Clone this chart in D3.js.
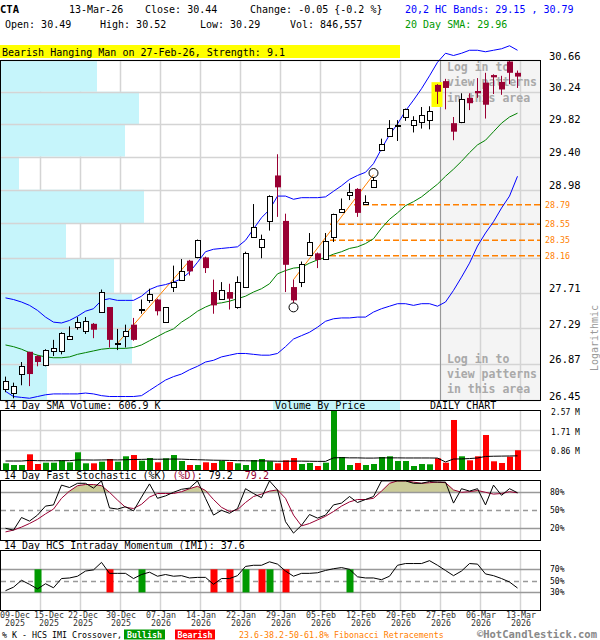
<!DOCTYPE html>
<html>
<head>
<meta charset="utf-8">
<script src="https://cdn.jsdelivr.net/npm/d3@7/dist/d3.min.js"></script>
<style>
body{margin:0;background:#fff;}
svg text{font-family:"DejaVu Sans Mono","Liberation Mono",monospace;white-space:pre;}
</style>
</head>
<body>
<svg id="chart" width="600" height="640"></svg>
<script>
// ---------------- DATA ----------------
const dates = ["2025-12-09","2025-12-10","2025-12-11","2025-12-12","2025-12-15","2025-12-16","2025-12-17","2025-12-18","2025-12-19","2025-12-22","2025-12-23","2025-12-24","2025-12-26","2025-12-29","2025-12-30","2025-12-31","2026-01-02","2026-01-05","2026-01-06","2026-01-07","2026-01-08","2026-01-09","2026-01-12","2026-01-13","2026-01-14","2026-01-15","2026-01-16","2026-01-20","2026-01-21","2026-01-22","2026-01-23","2026-01-26","2026-01-27","2026-01-28","2026-01-29","2026-01-30","2026-02-02","2026-02-03","2026-02-04","2026-02-05","2026-02-06","2026-02-09","2026-02-10","2026-02-11","2026-02-12","2026-02-13","2026-02-17","2026-02-18","2026-02-19","2026-02-20","2026-02-23","2026-02-24","2026-02-25","2026-02-26","2026-02-27","2026-03-02","2026-03-03","2026-03-04","2026-03-05","2026-03-06","2026-03-09","2026-03-10","2026-03-11","2026-03-12","2026-03-13"];
const open  = [26.58,26.53,26.75,27.01,26.96,26.85,27.02,27.02,27.16,27.30,27.25,27.34,27.48,27.54,27.10,27.20,27.33,27.51,27.63,27.63,27.36,27.78,27.87,28.10,28.14,28.14,27.72,27.64,27.72,27.54,27.78,28.39,28.27,28.59,29.16,28.59,27.78,27.84,28.17,28.19,28.12,28.39,28.70,28.91,28.99,28.80,29.02,29.48,29.67,29.79,29.91,29.80,29.85,29.87,30.33,30.38,29.83,29.84,30.16,30.25,30.36,30.46,30.37,30.64,30.49];
const high  = [26.72,26.65,26.89,27.01,26.97,27.04,27.15,27.24,27.31,27.42,27.42,27.35,27.75,27.54,27.28,27.33,27.41,27.63,27.76,27.64,27.54,28.04,28.12,28.11,28.36,28.15,27.87,27.84,27.82,27.91,28.21,28.80,28.42,28.91,29.43,28.68,27.87,28.09,28.44,28.20,28.44,28.68,28.87,29.06,29.00,28.91,29.14,29.63,29.87,29.87,30.02,29.92,30.04,30.05,30.34,30.41,29.91,30.22,30.22,30.42,30.49,30.47,30.45,30.66,30.52];
const low   = [26.54,26.47,26.62,26.61,26.84,26.84,26.96,26.98,27.15,27.27,27.22,27.17,27.47,27.06,27.03,27.06,27.14,27.46,27.59,27.44,27.35,27.72,27.86,27.92,28.13,27.95,27.46,27.64,27.51,27.52,27.77,28.39,28.13,28.47,28.64,27.72,27.59,27.78,28.16,28.01,28.11,28.33,28.69,28.85,28.64,28.79,29.01,29.47,29.66,29.60,29.86,29.71,29.76,29.75,30.08,30.01,29.61,29.83,30.00,30.16,29.89,30.21,30.20,30.34,30.29];
const close = [26.67,26.61,26.84,26.75,26.89,27.03,27.05,27.23,27.20,27.36,27.37,27.27,27.72,27.15,27.11,27.26,27.15,27.52,27.70,27.49,27.54,27.84,27.97,27.97,28.35,28.01,27.56,27.75,27.64,27.84,28.20,28.52,28.37,28.90,29.01,28.05,27.62,28.06,28.33,28.11,28.34,28.67,28.74,28.95,28.69,28.83,29.10,29.56,29.77,29.80,30.01,29.87,29.94,29.99,30.24,30.29,29.72,30.14,30.09,30.22,30.07,30.43,30.27,30.49,30.44];
const volume = [287000,214000,214000,672000,257000,313000,313000,415000,330000,758000,287000,287000,356000,471000,356000,587000,642000,398000,514000,330000,501000,642000,385000,214000,214000,330000,300000,398000,343000,287000,214000,428000,471000,373000,287000,415000,514000,257000,300000,171000,313000,2570000,557000,214000,300000,214000,257000,557000,587000,385000,385000,171000,257000,244000,501000,313000,2142000,587000,415000,587000,1499000,373000,300000,570000,846557];
const volSma = [385,385,385,410,400,395,395,400,400,430,430,425,430,435,430,440,450,455,465,460,465,470,465,450,440,430,420,415,410,400,395,390,390,385,375,375,380,380,375,370,370,520,530,520,520,510,510,520,520,520,515,515,515,515,510,345,470,475,490,515,580,590,595,600,606.9].map(v=>v*1000);
const sma20 = [27.09,27.07,27.04,27.00,26.97,26.95,26.94,26.94,26.95,26.98,27.00,27.02,27.04,27.05,27.05,27.05,27.06,27.09,27.14,27.19,27.24,27.28,27.36,27.42,27.49,27.54,27.58,27.59,27.61,27.64,27.67,27.72,27.76,27.82,27.94,27.98,28.01,28.02,28.07,28.11,28.14,28.18,28.21,28.25,28.27,28.31,28.37,28.50,28.61,28.69,28.78,28.83,28.89,28.97,29.05,29.15,29.24,29.34,29.45,29.55,29.61,29.72,29.83,29.91,29.96];
const bandUpper = [27.65,27.63,27.60,27.56,27.50,27.42,27.36,27.35,27.38,27.43,27.49,27.52,27.62,27.64,27.62,27.62,27.62,27.67,27.75,27.79,27.81,27.84,27.88,27.96,28.08,28.21,28.24,28.25,28.26,28.27,28.35,28.49,28.63,28.73,28.90,28.90,28.86,28.88,28.88,28.88,28.89,28.96,29.03,29.11,29.16,29.20,29.31,29.50,29.68,29.82,29.99,30.13,30.28,30.45,30.63,30.75,30.72,30.75,30.79,30.79,30.77,30.79,30.81,30.85,30.79];
const bandLower = [26.55,26.49,26.48,26.47,26.49,26.51,26.52,26.52,26.52,26.52,26.53,26.52,26.50,26.49,26.49,26.49,26.49,26.50,26.56,26.62,26.68,26.72,26.75,26.80,26.84,26.89,26.91,26.95,26.97,26.99,26.99,26.98,26.97,26.97,26.99,27.07,27.16,27.20,27.24,27.30,27.37,27.40,27.41,27.41,27.42,27.42,27.48,27.52,27.55,27.58,27.58,27.56,27.58,27.58,27.55,27.60,27.74,27.90,28.07,28.28,28.44,28.58,28.75,28.90,29.15];
const stochK = [20,17,38,32,42,57,59,92,88,95,95,87,99,54,52,56,49,72,94,70,74,80,85,87,99,70,42,50,45,53,86,78,71,99,84,31,12,25,43,37,42,59,62,73,63,68,73,99,99,99,99,95,95,98,97,97,62,86,82,86,59,92,75,86,79.2];
const stochD = [14,17,22,28,35,44,52,70,82,91,93,93,91,80,67,55,53,60,72,78,78,78,81,86,90,83,68,55,48,51,63,73,77,82,84,70,42,24,28,34,40,48,57,64,68,68,70,82,95,99,99,97,95,96,97,96,84,80,81,83,80,77,78,81,79.2];
const imi = [33,39,51,44,36,45,38,54,55,58,67,69,82,63,63,63,54,61,65,58,61,58,59,55,56,56,44,54,54,59,75,77,77,83,79,67,58,63,63,64,68,71,73,70,57,55,55,52,58,77,80,80,80,85,77,68,59,67,80,79,62,59,54,48,37.6];
const crossBull = ["2025-12-15","2026-01-05","2026-01-23","2026-01-28","2026-02-11"];
const crossBear = ["2025-12-29","2026-01-16","2026-01-21","2026-01-27","2026-01-30"];
const priceTicks = [26.45,26.87,27.29,27.71,28.13,28.56,28.98,29.40,29.82,30.24,30.66];
const vbpVolume = [1840,5240,5240,4520,2600,5720,720,4960,5520,3840]; // per band between priceTicks, bottom to top (thousands)
const fibLevels = [28.79,28.55,28.35,28.16];
const fibStart  = ["2026-02-12","2026-02-09","2026-02-09","2026-02-09"];
const trendLines = [{d0:"2025-12-30",p0:27.11,d1:"2026-01-13",p1:28.10},{d0:"2026-02-02",p0:27.87,d1:"2026-02-17",p1:29.17}];
const swingLow = {d:"2026-02-02"}, swingHigh = {d:"2026-02-17"};
const patternDate = "2026-02-27";
const volTicks = [860000,1710000,2570000];
const volTickLabels = ["0.86 M","1.71 M","2.57 M"];
const stochTicks = [20,50,80];
const imiTicks = [30,50,70];

// ---------------- SCALES ----------------
const svg = d3.select("#chart");
const parse = d3.timeParse("%Y-%m-%d");
const fmtD = d3.timeFormat("%d-%b"), fmtY = d3.timeFormat("%Y");
const xs = d3.scalePoint().domain(dates).range([5,517]);
const cx = d => xs(d) + 0.5;
const yP = d3.scaleLog().domain([26.45,30.66]).range([400,60]);
const yV = d3.scaleLinear().domain([0,2570000]).range([470,410]);
const yS = d3.scaleLinear().domain([0,100]).range([540.3,480.3]);
const yI = d3.scaleLinear().domain([0,100]).range([609.7,552]);
const vbpW = d3.scaleLinear().domain([0,d3.max(vbpVolume)]).range([0,143]);

const GRID = "#d4d4d4";
const tickDates = dates.filter((d,i)=> i===0 || i%5===4);
const gridX = tickDates.slice(1).map(d => Math.round(xs(d)) + 3.5);

function txt(g,x,y,s,o={}){
  const t = g.append("text").attr("x",x).attr("y",y).text(s)
    .attr("font-size",o.size||10).attr("fill",o.fill||"#000");
  if(o.anchor) t.attr("text-anchor",o.anchor);
  if(o.weight) t.attr("font-weight",o.weight);
  return t;
}
function vgrid(g,y0,y1){
  gridX.forEach(x=>g.append("line").attr("x1",x).attr("x2",x).attr("y1",y0).attr("y2",y1)
    .attr("stroke",GRID).attr("stroke-width",1.5));
}

// ---------------- HEADER ----------------
const hd = svg.append("g");
txt(hd,0,13,"CTA",{weight:"bold",size:10.5});
txt(hd,69,13,"13-Mar-26");
txt(hd,145,13,"Close: 30.44");
txt(hd,250,13,"Change: -0.05 {-0.2 %}");
txt(hd,405,13,"20,2 HC Bands: 29.15 , 30.79",{fill:"#0000ff"});
txt(hd,5,28,"Open: 30.49");
txt(hd,100,28,"High: 30.52");
txt(hd,200,28,"Low: 30.29");
txt(hd,290,28,"Vol: 846,557");
txt(hd,405,28,"20 Day SMA: 29.96",{fill:"#009900"});
hd.append("rect").attr("x",0).attr("y",45).attr("width",400).attr("height",13).attr("fill","#ffff00");
txt(hd,2,55.5,"Bearish Hanging Man on 27-Feb-26, Strength: 9.1");

// ---------------- MAIN PRICE PANEL ----------------
const gm = svg.append("g");
gm.append("rect").attr("x",440.5).attr("y",60).attr("width",100).attr("height",340).attr("fill","#f4f4f4");
vgrid(gm,60,400);
const bands = vbpVolume.map((v,i)=>({lo:priceTicks[i],hi:priceTicks[i+1],v}));
gm.selectAll("rect.vbp").data(bands).enter().append("rect").attr("class","vbp")
  .attr("x",1).attr("y",b=>yP(b.hi)).attr("width",b=>vbpW(b.v)).attr("height",b=>yP(b.lo)-yP(b.hi))
  .attr("fill","#c6f5fb");
priceTicks.forEach(p=>{
  const yy = Math.round(yP(p))+0.5;
  gm.append("line").attr("x1",1).attr("x2",540).attr("y1",yy).attr("y2",yy).attr("stroke",GRID).attr("stroke-width",1.5);
});
gm.append("line").attr("x1",440.5).attr("x2",440.5).attr("y1",60).attr("y2",400).attr("stroke","#999");
["Log in to","view patterns","in this area"].forEach((s,i)=>{
  txt(gm,447,71+i*15.3,s,{fill:"#a9a9a9",weight:"bold",size:11.5});
  txt(gm,447,363+i*15,s,{fill:"#a9a9a9",weight:"bold",size:11.5});
});
fibLevels.forEach((p,i)=>{
  const yy = yP(p);
  gm.append("line").attr("x1",xs(fibStart[i])-3).attr("x2",540).attr("y1",yy).attr("y2",yy)
    .attr("stroke","#ff8000").attr("stroke-width",1.5).attr("stroke-dasharray","6,3");
  txt(gm,545,yy+3,p.toFixed(2),{fill:"#ff8000",size:8.3});
});
trendLines.forEach(t=>{
  gm.append("line").attr("x1",cx(t.d0)).attr("y1",yP(t.p0)).attr("x2",cx(t.d1)).attr("y2",yP(t.p1))
    .attr("stroke","#ff8000").attr("stroke-width",1);
});
const lineOf = arr => d3.line().x((d,i)=>cx(dates[i])).y(d=>yP(d))(arr);
gm.append("path").attr("d",lineOf(bandUpper)).attr("fill","none").attr("stroke","#0000ff").attr("stroke-width",1);
gm.append("path").attr("d",lineOf(bandLower)).attr("fill","none").attr("stroke","#0000ff").attr("stroke-width",1);
gm.append("path").attr("d",lineOf(sma20)).attr("fill","none").attr("stroke","#008000").attr("stroke-width",1);
{
  const i = dates.indexOf(patternDate);
  gm.append("rect").attr("x",cx(patternDate)-6).attr("y",yP(high[i])-2)
    .attr("width",11).attr("height",yP(low[i])-yP(high[i])+5).attr("fill","#ffff00");
}
dates.forEach((d,i)=>{
  const o=open[i],h=high[i],l=low[i],c=close[i];
  const bull = c>=o;
  const col = bull ? "#000" : "#990033";
  const x = cx(d);
  gm.append("line").attr("x1",x).attr("x2",x).attr("y1",yP(h)).attr("y2",yP(l)).attr("stroke",col);
  const yt = yP(Math.max(o,c)), yb = yP(Math.min(o,c));
  if(bull){
    const t = Math.round(yt), b = Math.round(yb);
    gm.append("rect").attr("x",x-2).attr("y",t+0.5).attr("width",5).attr("height",Math.max(1,b-t))
      .attr("fill","#fff").attr("stroke","#000");
  } else {
    gm.append("rect").attr("x",x-2.5).attr("y",yt).attr("width",6).attr("height",Math.max(1.5,yb-yt)).attr("fill",col);
  }
});
{
  const il = dates.indexOf(swingLow.d), ih = dates.indexOf(swingHigh.d);
  gm.append("circle").attr("cx",cx(swingLow.d)).attr("cy",yP(low[il])+4.5).attr("r",4.5).attr("fill","none").attr("stroke","#000");
  gm.append("circle").attr("cx",cx(swingHigh.d)).attr("cy",yP(high[ih])-4).attr("r",4.5).attr("fill","none").attr("stroke","#000");
}
gm.append("rect").attr("x",0.5).attr("y",60.5).attr("width",540).attr("height",340).attr("fill","none").attr("stroke","#000");
priceTicks.forEach(p=>{
  const yy = yP(p);
  if(fibLevels.some(f=>Math.abs(yP(f)-yy)<6)) return;
  txt(gm,549,yy-0.5,p.toFixed(2),{size:10.5});
});
txt(gm,0,0,"Logarithmic",{fill:"#999",anchor:"middle"}).attr("transform","translate(598,338) rotate(-90)").attr("x",null).attr("y",null);

// ---------------- VOLUME PANEL ----------------
const gv = svg.append("g");
gv.append("rect").attr("x",273).attr("y",401).attr("width",127).attr("height",9.5).attr("fill","#c6f5fb");
txt(gv,4,409,"14 Day SMA Volume: 606.9 K");
txt(gv,275,409,"Volume By Price");
txt(gv,430,409,"DAILY CHART");
vgrid(gv,410,470);
volTicks.slice(0,2).forEach(v=>{
  const yy = Math.round(yV(v))+0.5;
  gv.append("line").attr("x1",1).attr("x2",540).attr("y1",yy).attr("y2",yy).attr("stroke",GRID).attr("stroke-width",1.5);
});
dates.forEach((d,i)=>{
  const up = close[i]>=open[i];
  gv.append("rect").attr("x",Math.round(xs(d))-2).attr("y",yV(volume[i])).attr("width",6)
    .attr("height",470-yV(volume[i])).attr("fill",up?"#009900":"#ff0000");
});
gv.append("path").attr("d",d3.line().x((v,i)=>cx(dates[i])).y(v=>yV(v))(volSma)).attr("fill","none").attr("stroke","#000");
gv.append("rect").attr("x",0.5).attr("y",410.5).attr("width",540).attr("height",60).attr("fill","none").attr("stroke","#000");
volTicks.forEach((v,i)=>txt(gv,551,yV(v)+4.5,volTickLabels[i],{size:8}));

// ---------------- STOCHASTIC PANEL ----------------
const gs = svg.append("g");
{
  const t = txt(gs,4,479,"14 Day Fast Stochastic (%K) ");
  t.append("tspan").attr("fill","#990033").text("(%D)");
  t.append("tspan").text(": 79.2  ");
  t.append("tspan").attr("fill","#990033").text("79.2");
}
vgrid(gs,481,540);
gs.append("path").attr("d",d3.area().x((v,i)=>cx(dates[i])).y0(yS(80)).y1(v=>yS(Math.max(80,v)))(stochD)).attr("fill","#cccc99");
stochTicks.forEach(v=>{
  const yy = Math.round(yS(v))+0.5;
  gs.append("line").attr("x1",1).attr("x2",540).attr("y1",yy).attr("y2",yy).attr("stroke","#999").attr("stroke-width",1.5)
    .attr("stroke-dasharray",v===50?"5,4":null);
  txt(gs,550,yS(v)+3,v+"%",{size:8});
});
gs.append("path").attr("d",d3.line().x((v,i)=>cx(dates[i])).y(v=>yS(v))(stochD)).attr("fill","none").attr("stroke","#990033");
gs.append("path").attr("d",d3.line().x((v,i)=>cx(dates[i])).y(v=>yS(v))(stochK)).attr("fill","none").attr("stroke","#000");
gs.append("rect").attr("x",0.5).attr("y",480.5).attr("width",540).attr("height",60).attr("fill","none").attr("stroke","#000");

// ---------------- IMI PANEL ----------------
const gi = svg.append("g");
txt(gi,4,549,"14 Day HCS Intraday Momentum (IMI): 37.6");
vgrid(gi,551,610);
imiTicks.forEach(v=>{
  const yy = Math.round(yI(v))+0.5;
  gi.append("line").attr("x1",1).attr("x2",540).attr("y1",yy).attr("y2",yy).attr("stroke","#999").attr("stroke-width",1.5)
    .attr("stroke-dasharray",v===50?"5,4":null);
  txt(gi,550,yI(v)+3,v+"%",{size:8});
});
crossBull.forEach(d=>gi.append("rect").attr("x",Math.round(xs(d))-2.5).attr("y",yI(70)).attr("width",7).attr("height",yI(30)-yI(70)).attr("fill","#009900"));
crossBear.forEach(d=>gi.append("rect").attr("x",Math.round(xs(d))-2.5).attr("y",yI(70)).attr("width",7).attr("height",yI(30)-yI(70)).attr("fill","#ff0000"));
gi.append("path").attr("d",d3.line().x((v,i)=>cx(dates[i])).y(v=>yI(v))(imi)).attr("fill","none").attr("stroke","#000");
gi.append("rect").attr("x",0.5).attr("y",550.5).attr("width",540).attr("height",60).attr("fill","none").attr("stroke","#000");

// ---------------- X AXIS ----------------
const gx = svg.append("g");
{
  let prevRight = -10;
  const w = 6*5.0;
  tickDates.forEach((d,k)=>{
    let c = k===0 ? xs(d) : Math.round(xs(d))+4;
    let left = Math.max(0, c - w/2);
    if(left < prevRight + 4) left = prevRight + 4;
    prevRight = left + w;
    const dt = parse(d);
    txt(gx,left+w/2,617.5,fmtD(dt),{size:8.3,anchor:"middle",fill:"#333"});
    txt(gx,left+w/2,626,fmtY(dt),{size:8.3,anchor:"middle",fill:"#333"});
  });
}

// ---------------- FOOTER ----------------
const gf = svg.append("g");
txt(gf,2,638,"% K - HCS IMI Crossover,",{size:8.3});
gf.append("rect").attr("x",124).attr("y",629.5).attr("width",41).attr("height",10).attr("fill","#009900");
txt(gf,144.5,638,"Bullish",{size:8.3,fill:"#fff",anchor:"middle",weight:"bold"});
gf.append("rect").attr("x",175).attr("y",629.5).attr("width",40).attr("height",10).attr("fill","#ff0000");
txt(gf,195,638,"Bearish",{size:8.3,fill:"#fff",anchor:"middle",weight:"bold"});
txt(gf,239,638,"23.6-38.2-50-61.8% Fibonacci Retracements",{size:8.3,fill:"#ff8000"});
txt(gf,597,637.5,"©HotCandlestick.com",{size:10.5,fill:"#888",weight:"bold",anchor:"end"});
</script>
</body>
</html>
